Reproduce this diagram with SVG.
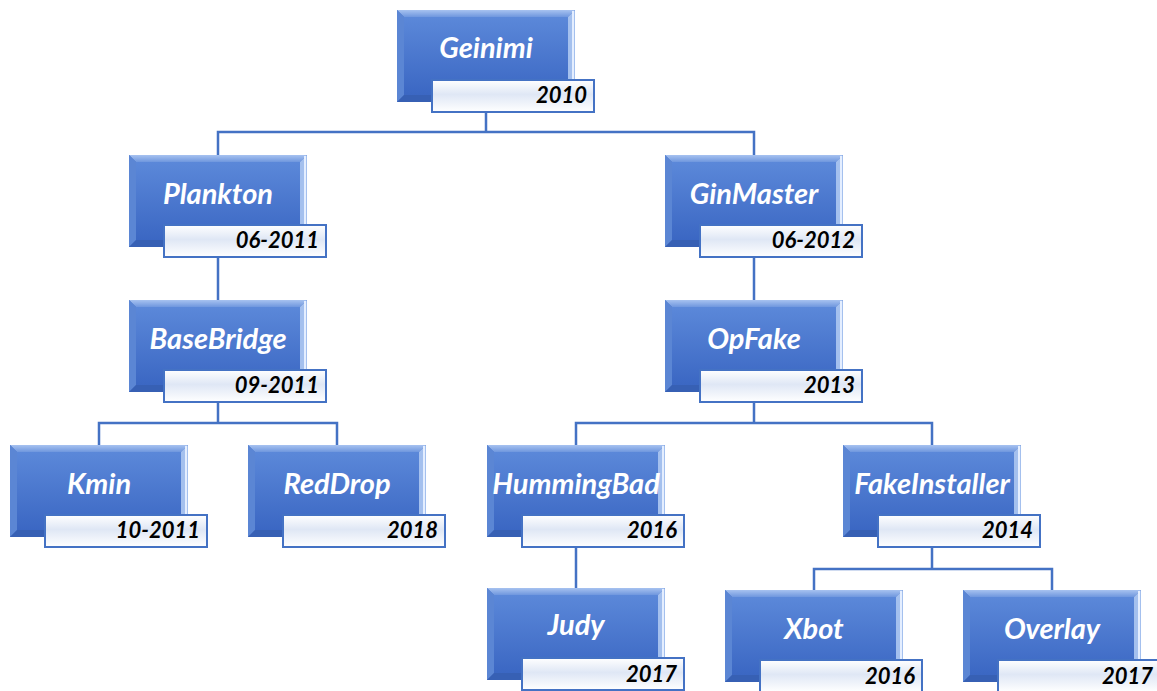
<svg xmlns="http://www.w3.org/2000/svg" xmlns:xlink="http://www.w3.org/1999/xlink" width="1157" height="691" viewBox="0 0 1157 691">
<style>
.conn{fill:none;stroke:#4472c4;stroke-width:2.5}
.lbl{font-family:Lato,"Liberation Sans",sans-serif;font-weight:bold;font-style:italic;font-size:29px;fill:#ffffff;text-anchor:middle}
.dt{font-family:Lato,"Liberation Sans",sans-serif;font-weight:bold;font-style:italic;font-size:22px;fill:#000000;text-anchor:end}
.dbox{fill:url(#dg);stroke:#4472c4;stroke-width:2}
</style>
<defs>
<linearGradient id="face" x1="0" y1="0" x2="0" y2="1">
<stop offset="0" stop-color="#5b88d9"/>
<stop offset="1" stop-color="#3b67c3"/>
</linearGradient>
<linearGradient id="topb" x1="0" y1="0" x2="0" y2="1">
<stop offset="0" stop-color="#a7c2f0"/>
<stop offset="1" stop-color="#6f97de"/>
</linearGradient>
<linearGradient id="dg" x1="0" y1="0" x2="0" y2="1">
<stop offset="0" stop-color="#ffffff"/>
<stop offset="0.45" stop-color="#dfe7f5"/>
<stop offset="1" stop-color="#ffffff"/>
</linearGradient>
<g id="shape">
<rect x="0" y="0" width="178" height="92" fill="#4a74c8"/>
<polygon points="0,0 178,0 171,7 7,7" fill="url(#topb)"/>
<polygon points="0,0 7,7 7,85 0,92" fill="#5b86d4"/>
<polygon points="178,0 178,92 171,85 171,7" fill="#a4c0ee"/>
<polygon points="0,92 178,92 171,85 7,85" fill="#3760b4"/>
<rect x="7" y="7" width="164" height="78" fill="url(#face)"/>
<line x1="176" y1="1" x2="176" y2="91" stroke="#e4eeff" stroke-width="2"/>
<rect x="35" y="70" width="162" height="32" class="dbox"/>
</g>
</defs>
<g id="connectors">
<path class="conn" d="M486,112 V132 M218,155 V132 H754 V155"/>
<path class="conn" d="M218,257 V300 M754,257 V300"/>
<path class="conn" d="M218,402 V423 M99,445 V423 H337 V445"/>
<path class="conn" d="M754,402 V423 M576,445 V423 H932 V445"/>
<path class="conn" d="M576,547 V590"/>
<path class="conn" d="M932,547 V569 M814,590 V569 H1052 V590"/>
</g>
<g id="node-geinimi" transform="translate(397,10)"><use xlink:href="#shape"/><text class="lbl" x="89" y="48">Geinimi</text><text class="dt" x="190" y="93">2010</text></g>
<g id="node-plankton" transform="translate(129,155)"><use xlink:href="#shape"/><text class="lbl" x="89" y="49">Plankton</text><text class="dt" x="190" y="93">06-2011</text></g>
<g id="node-ginmaster" transform="translate(665,155)"><use xlink:href="#shape"/><text class="lbl" x="89" y="49">GinMaster</text><text class="dt" x="190" y="93">06-2012</text></g>
<g id="node-basebridge" transform="translate(129,300)"><use xlink:href="#shape"/><text class="lbl" x="89" y="49">BaseBridge</text><text class="dt" x="190" y="93">09-2011</text></g>
<g id="node-opfake" transform="translate(665,300)"><use xlink:href="#shape"/><text class="lbl" x="89" y="49">OpFake</text><text class="dt" x="190" y="93">2013</text></g>
<g id="node-kmin" transform="translate(10,445)"><use xlink:href="#shape"/><text class="lbl" x="89" y="49">Kmin</text><text class="dt" x="190" y="93">10-2011</text></g>
<g id="node-reddrop" transform="translate(248,445)"><use xlink:href="#shape"/><text class="lbl" x="89" y="49">RedDrop</text><text class="dt" x="190" y="93">2018</text></g>
<g id="node-hummingbad" transform="translate(487,445)"><use xlink:href="#shape"/><text class="lbl" x="89" y="49">HummingBad</text><text class="dt" x="190" y="93">2016</text></g>
<g id="node-fakeinstaller" transform="translate(843,445)"><use xlink:href="#shape"/><text class="lbl" x="89" y="49">FakeInstaller</text><text class="dt" x="190" y="93">2014</text></g>
<g id="node-judy" transform="translate(487,588)"><use xlink:href="#shape"/><text class="lbl" x="89" y="47">Judy</text><text class="dt" x="190" y="94">2017</text></g>
<g id="node-xbot" transform="translate(725,590)"><use xlink:href="#shape"/><text class="lbl" x="89" y="49">Xbot</text><text class="dt" x="190" y="94">2016</text></g>
<g id="node-overlay" transform="translate(963,590)"><use xlink:href="#shape"/><text class="lbl" x="89" y="49">Overlay</text><text class="dt" x="190" y="94">2017</text></g>
</svg>
